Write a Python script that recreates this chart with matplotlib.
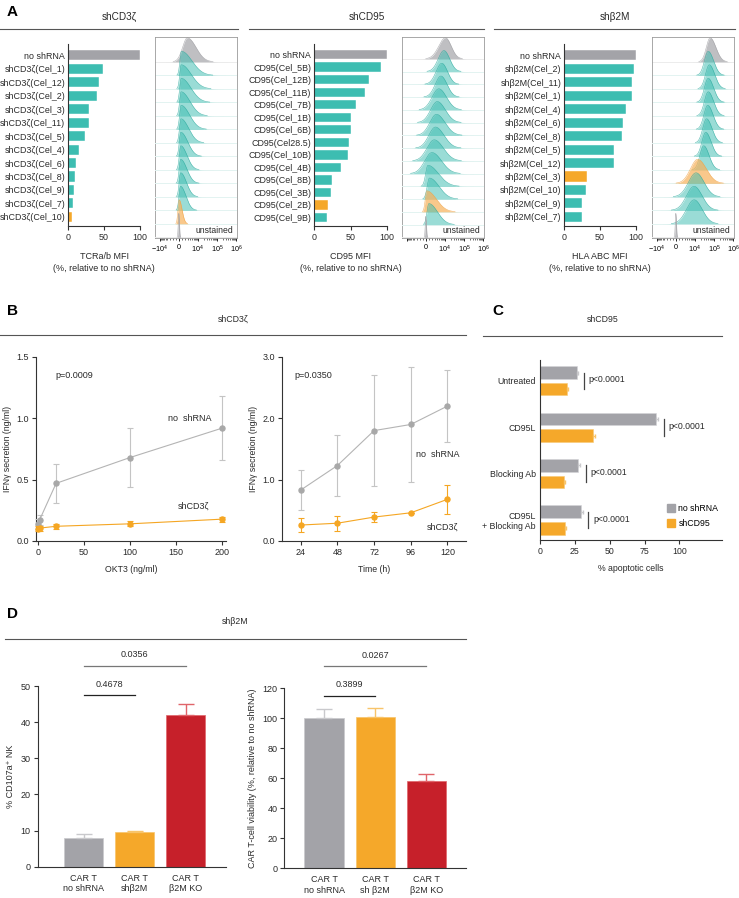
import numpy as np
import matplotlib
matplotlib.use('Agg')
import matplotlib.pyplot as plt
from matplotlib.lines import Line2D
from matplotlib.patches import Patch

plt.rcParams['font.family'] = ['Liberation Sans', 'DejaVu Sans']
plt.rcParams['axes.linewidth'] = 0.8
plt.rcParams['mathtext.fontset'] = 'custom'
plt.rcParams['mathtext.rm'] = 'Liberation Sans'
plt.rcParams['mathtext.it'] = 'Liberation Sans:italic'
plt.rcParams['mathtext.bf'] = 'Liberation Sans:bold'

TEAL = '#3dbdb1'
GREY = '#a3a3a8'
ORANGE = '#f5a82a'
RED = '#c6202a'
INK = '#2a2a2a'

# ---------------- A: knockdown screens ----------------
cd3_names = ['no shRNA', 'shCD3ζ(Cel_1)', 'shCD3ζ(Cel_12)', 'shCD3ζ(Cel_2)', 'shCD3ζ(Cel_3)',
             'shCD3ζ(Cel_11)', 'shCD3ζ(Cel_5)', 'shCD3ζ(Cel_4)', 'shCD3ζ(Cel_6)', 'shCD3ζ(Cel_8)',
             'shCD3ζ(Cel_9)', 'shCD3ζ(Cel_7)', 'shCD3ζ(Cel_10)']
cd3_mfi = [100, 48, 43, 40, 29, 29, 24, 15, 11, 10, 8, 7, 5.5]
cd3_pick = 'shCD3ζ(Cel_10)'

cd95_names = ['no shRNA', 'CD95(Cel_5B)', 'CD95(Cel_12B)', 'CD95(Cel_11B)', 'CD95(Cel_7B)',
              'CD95(Cel_1B)', 'CD95(Cel_6B)', 'CD95(Cel28.5)', 'CD95(Cel_10B)', 'CD95(Cel_4B)',
              'CD95(Cel_8B)', 'CD95(Cel_3B)', 'CD95(Cel_2B)', 'CD95(Cel_9B)']
cd95_mfi = [100, 92, 76, 70, 58, 51, 50, 48, 46, 37.5, 25, 23, 19, 18]
cd95_pick = 'CD95(Cel_2B)'

b2m_names = ['no shRNA', 'shβ2M(Cel_2)', 'shβ2M(Cel_11)', 'shβ2M(Cel_1)', 'shβ2M(Cel_4)',
             'shβ2M(Cel_6)', 'shβ2M(Cel_8)', 'shβ2M(Cel_5)', 'shβ2M(Cel_12)', 'shβ2M(Cel_3)',
             'shβ2M(Cel_10)', 'shβ2M(Cel_9)', 'shβ2M(Cel_7)']
b2m_mfi = [100, 97, 95, 94, 86.5, 81.5, 80.5, 70, 69.5, 32, 30, 25.5, 24.5]
b2m_pick = 'shβ2M(Cel_3)'

# flow histograms: one row per bar plus "unstained"; peak intensity and spread (decades)
cd3_peak = [2800, 900, 850, 850, 800, 800, 750, 700, 700, 650, 650, 600, 100, 0]
cd3_wl = [0.25, 0.08, 0.08, 0.08, 0.08, 0.08, 0.08, 0.08, 0.08, 0.08, 0.08, 0.08, 0.06, 0.03]
cd3_wr = [0.45, 0.55, 0.52, 0.5, 0.46, 0.44, 0.4, 0.36, 0.32, 0.32, 0.3, 0.28, 0.15, 0.03]

cd95_peak = [10700, 8900, 6900, 6200, 4800, 4000, 3600, 3200, 2750, 2100, 730, 1260, 330, 1060, 0]
cd95_wl = [0.35, 0.3, 0.3, 0.3, 0.35, 0.35, 0.35, 0.35, 0.38, 0.38, 0.12, 0.12, 0.08, 0.1, 0.03]
cd95_wr = [0.3, 0.3, 0.3, 0.32, 0.4, 0.42, 0.45, 0.45, 0.48, 0.5, 0.55, 0.5, 0.5, 0.45, 0.03]

b2m_peak = [63000, 50000, 57000, 50000, 50000, 47000, 41000, 37000, 29000, 14000, 11500, 9100, 9100, 0]
b2m_wl = [0.2, 0.2, 0.2, 0.2, 0.2, 0.2, 0.2, 0.2, 0.2, 0.38, 0.4, 0.4, 0.4, 0.03]
b2m_wr = [0.3, 0.28, 0.28, 0.28, 0.28, 0.28, 0.28, 0.28, 0.28, 0.45, 0.42, 0.42, 0.42, 0.03]

hist_ticks = [-1e4, 0, 1e4, 1e5, 1e6]
hist_labels_full = ['$-10^4$', '0', '$10^4$', '$10^5$', '$10^6$']
hist_labels_cd95 = ['', '0', '$10^4$', '$10^5$', '$10^6$']

# ---------------- B: IFNγ secretion ----------------
okt3 = [0, 2, 20, 100, 200]
okt3_ctrl = [0.14, 0.17, 0.47, 0.68, 0.92]
okt3_ctrl_err = [0.04, 0.04, 0.16, 0.24, 0.26]
okt3_kd = [0.10, 0.105, 0.12, 0.14, 0.178]
okt3_kd_err = [0.02, 0.02, 0.02, 0.02, 0.02]

time_h = [24, 48, 72, 96, 120]
time_ctrl = [0.83, 1.23, 1.80, 1.90, 2.20]
time_ctrl_err = [0.33, 0.5, 0.9, 0.94, 0.58]
time_kd = [0.26, 0.29, 0.39, 0.46, 0.68]
time_kd_err = [0.11, 0.12, 0.08, 0.0, 0.24]

# ---------------- C: apoptosis ----------------
c_groups = ['Untreated', 'CD95L', 'Blocking Ab', 'CD95L\n+ Blocking Ab']
c_ctrl = [26.8, 83, 27.5, 29.3]
c_ctrl_err = [0.8, 2, 1.5, 1.5]
c_kd = [19.1, 37.8, 17.5, 18]
c_kd_err = [0.8, 1.5, 0.6, 0.6]
c_pvals = ['p<0.0001', 'p<0.0001', 'p<0.0001', 'p<0.0001']

# ---------------- D: NK recognition ----------------
d_nk_labels = ['CAR T\nno shRNA', 'CAR T\nshβ2M', 'CAR T\nβ2M KO']
d_nk = [7.85, 9.5, 41.9]
d_nk_err = [1.1, 0.45, 3.1]
d_via_labels = ['CAR T\nno shRNA', 'CAR T\nsh β2M', 'CAR T\nβ2M KO']
d_via = [100, 100.7, 58.4]
d_via_err = [6, 6.4, 4.7]
d_colors = [GREY, ORANGE, RED]
d_err_colors = ['#c9c9cc', '#f8c46a', '#e0646a']


W, H = 739, 898
fig = plt.figure(figsize=(W / 100, H / 100), dpi=100)


def box(x0, y0, x1, y1):
    return [x0 / W, 1 - y1 / H, (x1 - x0) / W, (y1 - y0) / H]


def header(title, x0, x1, y_title, y_line, size):
    fig.text((x0 + x1) / 2 / W, 1 - y_title / H, title, ha='center', va='center',
             fontsize=size, color=INK)
    fig.add_artist(Line2D([x0 / W, x1 / W], [1 - y_line / H] * 2, color='#555555', lw=0.8))


def letter(s, x, y):
    fig.text(x / W, 1 - y / H, s, fontsize=11, fontweight='bold', ha='left', va='center')


def prism(ax, size=6.5):
    for s in ['top', 'right']:
        ax.spines[s].set_visible(False)
    for s in ['left', 'bottom']:
        ax.spines[s].set_color('#333333')
        ax.spines[s].set_linewidth(0.8)
    ax.tick_params(length=3, width=0.8, labelsize=size, pad=2, color='#333333', labelcolor=INK)


def bar_panel(ax, names, vals, pick, xlabel):
    n = len(names)
    cols = [GREY if i == 0 else (ORANGE if nm == pick else TEAL) for i, nm in enumerate(names)]
    ax.barh(np.arange(n), vals, height=0.75, color=cols, edgecolor='white', linewidth=0.3)
    ax.set_xlim(0, 100)
    ax.set_ylim(n - 1 + 0.68, -0.85)
    ax.set_yticks(np.arange(n))
    ax.set_yticklabels(names)
    prism(ax, 6.4)
    ax.tick_params(axis='y', length=0, pad=2)
    ax.set_xticks([0, 50, 100])
    # two-line axis title, one text per line
    ax.text(0.5, -0.165, xlabel, transform=ax.transAxes, ha='center', va='center',
            fontsize=6.5, color=INK)
    ax.text(0.5, -0.232, '(%, relative to no shRNA)', transform=ax.transAxes, ha='center',
            va='center', fontsize=6.5, color=INK)


LIN = 2000.0


def hist_panel(ax, peaks, wl, wr, pick_idx, height, labels):
    ax.set_xscale('symlog', linthresh=LIN, linscale=0.271)
    fwd = ax.xaxis.get_transform()
    inv = fwd.inverted()
    u = np.linspace(-1.6, 3.6, 600)
    xs = inv.transform(u * LIN)
    n = len(peaks)
    for i in range(n):
        base = n - 1 - i
        pu = fwd.transform(np.array([float(peaks[i])]))[0] / LIN
        w = np.where(u < pu, wl[i], wr[i])
        dens = height * np.exp(-0.5 * ((u - pu) / w) ** 2)
        if i == 0 or i == n - 1:
            fc, ec, a = '#b4b4b8', '#9c9ca0', 0.85
        elif i == pick_idx:
            fc, ec, a = '#f7b15a', '#f0a040', 0.7
        else:
            fc, ec, a = TEAL, '#2aa89c', 0.52
        z = 2 + i * 0.1
        ax.axhline(base, color='#e3f3f1' if 0 < i < n - 1 else '#ececec', lw=0.7, zorder=z - 0.05)
        ax.fill_between(xs, base, base + dens, color=fc, alpha=a, lw=0, zorder=z)
        edge = np.where(dens > 0.02, base + dens, np.nan)
        ax.plot(xs, edge, color=ec, lw=0.4, alpha=0.8, zorder=z + 0.01)
    ax.set_xlim(inv.transform(np.array([-1.25 * LIN]))[0], inv.transform(np.array([3.05 * LIN]))[0])
    ax.set_ylim(-0.05, n - 1 + height + 0.06)
    ax.set_yticks([])
    ax.set_xticks(hist_ticks)
    ax.set_xticklabels(labels)
    minor = [k * 1e3 for k in range(-9, 10) if k != 0] + [k * 1e4 for k in range(2, 10)] + \
            [k * 1e5 for k in range(2, 10)]
    ax.set_xticks(minor, minor=True)
    ax.tick_params(axis='x', which='major', length=2.5, width=0.6, labelsize=5.2, pad=1.5)
    ax.tick_params(axis='x', which='minor', length=1.4, width=0.4)
    for s in ax.spines.values():
        s.set_color('#9a9a9a')
        s.set_linewidth(0.6)
    ax.text(0.96, 0.015, 'unstained', transform=ax.transAxes, ha='right', va='bottom',
            fontsize=6.2, color=INK, zorder=10)


# ---------- panel A ----------
letter('A', 7, 12)
header('shCD3ζ', 0, 238, 17, 29, 7.2)
header('shCD95', 249, 484, 17, 29, 7.2)
header('shβ2M', 494, 735, 17, 29, 7.2)

ax = fig.add_axes(box(68, 44, 140, 226))
bar_panel(ax, cd3_names, cd3_mfi, cd3_pick, 'TCRa/b MFI')
ax = fig.add_axes(box(314, 44, 387, 226))
bar_panel(ax, cd95_names, cd95_mfi, cd95_pick, 'CD95 MFI')
ax = fig.add_axes(box(564, 44, 636, 226))
bar_panel(ax, b2m_names, b2m_mfi, b2m_pick, 'HLA ABC MFI')

ax = fig.add_axes(box(155, 37, 237, 238))
hist_panel(ax, cd3_peak, cd3_wl, cd3_wr, cd3_names.index(cd3_pick), 1.78, hist_labels_full)
ax = fig.add_axes(box(402, 37, 484, 238))
hist_panel(ax, cd95_peak, cd95_wl, cd95_wr, cd95_names.index(cd95_pick), 1.65, hist_labels_cd95)
ax = fig.add_axes(box(652, 37, 734, 238))
hist_panel(ax, b2m_peak, b2m_wl, b2m_wr, b2m_names.index(b2m_pick), 1.78, hist_labels_full)

# ---------- panel B ----------
letter('B', 7, 311)
header('shCD3ζ', 0, 466, 319, 335, 6.3)
GLINE = '#b4b4b4'
OLINE = '#f5a623'


def line_panel(ax, x, c, ce, k, ke):
    ax.errorbar(x, c, yerr=ce, fmt='-o', color=GLINE, mfc='#a8a8a8', mec='#a8a8a8', ms=3.6,
                lw=0.8, ecolor='#c4c4c4', elinewidth=0.8, capsize=2, capthick=0.8, clip_on=False,
                zorder=3)
    ax.errorbar(x, k, yerr=ke, fmt='-o', color=OLINE, mfc=OLINE, mec=OLINE, ms=3.6,
                lw=0.8, ecolor=OLINE, elinewidth=0.8, capsize=2, capthick=0.8, clip_on=False,
                zorder=4)
    prism(ax, 6.5)
    ax.set_ylabel('IFNγ secretion (ng/ml)', fontsize=6.3, labelpad=3, color=INK)


ax = fig.add_axes(box(36, 357, 226, 541))
line_panel(ax, okt3, okt3_ctrl, okt3_ctrl_err, okt3_kd, okt3_kd_err)
ax.set_xlim(-1.8, 204.3)
ax.set_ylim(0, 1.5)
ax.set_xticks([0, 50, 100, 150, 200])
ax.set_yticks([0, 0.5, 1.0, 1.5])
ax.set_yticklabels(['0.0', '0.5', '1.0', '1.5'])
ax.set_xlabel('OKT3 (ng/ml)', fontsize=6.3, labelpad=6, color=INK)
ax.text(0.1, 0.9, 'p=0.0009', transform=ax.transAxes, fontsize=6.5, va='center', color=INK)
ax.text(165, 1.0, 'no  shRNA', fontsize=6.5, ha='center', va='center', color=INK)
ax.text(169, 0.28, 'shCD3ζ', fontsize=6.5, ha='center', va='center', color=INK)

ax = fig.add_axes(box(282, 357, 466, 541))
line_panel(ax, time_h, time_ctrl, time_ctrl_err, time_kd, time_kd_err)
ax.set_xlim(11.8, 132.1)
ax.set_ylim(0, 3.0)
ax.set_xticks(time_h)
ax.set_yticks([0, 1, 2, 3])
ax.set_yticklabels(['0.0', '1.0', '2.0', '3.0'])
ax.set_xlabel('Time (h)', fontsize=6.3, labelpad=6, color=INK)
ax.text(0.07, 0.9, 'p=0.0350', transform=ax.transAxes, fontsize=6.5, va='center', color=INK)
ax.text(113.8, 1.41, 'no  shRNA', fontsize=6.5, ha='center', va='center', color=INK)
ax.text(117, 0.22, 'shCD3ζ', fontsize=6.5, ha='center', va='center', color=INK)

# ---------- panel C ----------
letter('C', 492, 311)
header('shCD95', 483, 722, 319, 336, 6.3)
ax = fig.add_axes(box(540, 360, 722, 540))
gy = np.arange(len(c_groups))
ax.barh(gy - 0.179, c_ctrl, height=0.27, color=GREY, edgecolor='#d5d5d8', linewidth=0.4,
        label='no shRNA')
ax.barh(gy + 0.179, c_kd, height=0.27, color=ORANGE, edgecolor='#f8c977', linewidth=0.4,
        label='shCD95')
ax.errorbar(c_ctrl, gy - 0.179, xerr=[np.zeros(4), c_ctrl_err], fmt='none', ecolor='#c9c9cc',
            elinewidth=0.7, capsize=1.5)
ax.errorbar(c_kd, gy + 0.179, xerr=[np.zeros(4), c_kd_err], fmt='none', ecolor='#f8c46a',
            elinewidth=0.7, capsize=1.5)
for i in range(len(c_groups)):
    xs = max(c_ctrl[i] + c_ctrl_err[i], c_kd[i] + c_kd_err[i]) + 3.8
    ax.plot([xs, xs], [i - 0.179, i + 0.179], color='#444444', lw=0.9)
    ax.text(xs + 3.5, i - 0.02, c_pvals[i], fontsize=6.3, va='center', color=INK)
ax.set_xlim(0, 130.6)
ax.set_ylim(3.43, -0.45)
ax.set_yticks(gy)
ax.set_yticklabels(c_groups)
prism(ax, 6.3)
ax.tick_params(axis='y', length=0, pad=3)
ax.set_xticks([0, 25, 50, 75, 100])
ax.set_xlabel('% apoptotic cells', fontsize=6.3, labelpad=6, color=INK)
hl = [Patch(color=GREY), Patch(color=ORANGE)]
ax.legend(hl, ['no shRNA', 'shCD95'], loc='upper left', bbox_to_anchor=(667 / W, 1 - 504 / H),
          bbox_transform=fig.transFigure, frameon=False, fontsize=6.3, handlelength=0.9,
          handleheight=1.1, handletextpad=0.4, labelspacing=0.65, borderpad=0, borderaxespad=0)

# ---------- panel D ----------
letter('D', 7, 614)
header('shβ2M', 5, 466, 622, 639, 6.3)


def d_panel(ax, labels, vals, errs, ylabel):
    x = np.arange(len(vals))
    ax.bar(x, vals, width=0.77, color=d_colors, edgecolor=d_err_colors, linewidth=0.5)
    for i in range(len(vals)):
        ax.errorbar(x[i], vals[i], yerr=[[0], [errs[i]]], fmt='none', ecolor=d_err_colors[i],
                    elinewidth=1.0, capsize=6, capthick=1.0)
    ax.set_xticks(x)
    ax.set_xticklabels(labels)
    prism(ax, 6.5)
    ax.tick_params(axis='x', length=0, pad=5)
    ax.set_ylabel(ylabel, fontsize=6.5, labelpad=4, color=INK)


def sig(ax, x0, x1, y_line, y_text, txt, col):
    ax.plot([x0, x1], [y_line, y_line], color=col, lw=0.9, clip_on=False)
    ax.text((x0 + x1) / 2, y_text, txt, ha='center', va='center', fontsize=6.5, color=INK,
            clip_on=False)


ax = fig.add_axes(box(37.7, 686, 226, 866.7))
d_panel(ax, d_nk_labels, d_nk, d_nk_err, '% CD107a⁺ NK')
ax.set_xlim(-0.9, 2.79)
ax.set_ylim(0, 50)
ax.set_yticks([0, 10, 20, 30, 40, 50])
sig(ax, 0, 2, 55.5, 58.6, '0.0356', '#777777')
sig(ax, 0, 1, 47.4, 50.3, '0.4678', '#222222')

ax = fig.add_axes(box(284.3, 688.3, 465.7, 868.3))
d_panel(ax, d_via_labels, d_via, d_via_err, 'CAR T-cell viability (%, relative to no shRNA)')
ax.set_xlim(-0.78, 2.77)
ax.set_ylim(0, 120)
ax.set_yticks([0, 20, 40, 60, 80, 100, 120])
sig(ax, 0, 2, 134.9, 142.2, '0.0267', '#777777')
sig(ax, 0, 1, 114.9, 122.2, '0.3899', '#222222')

fig.savefig('out.png', dpi=100)
